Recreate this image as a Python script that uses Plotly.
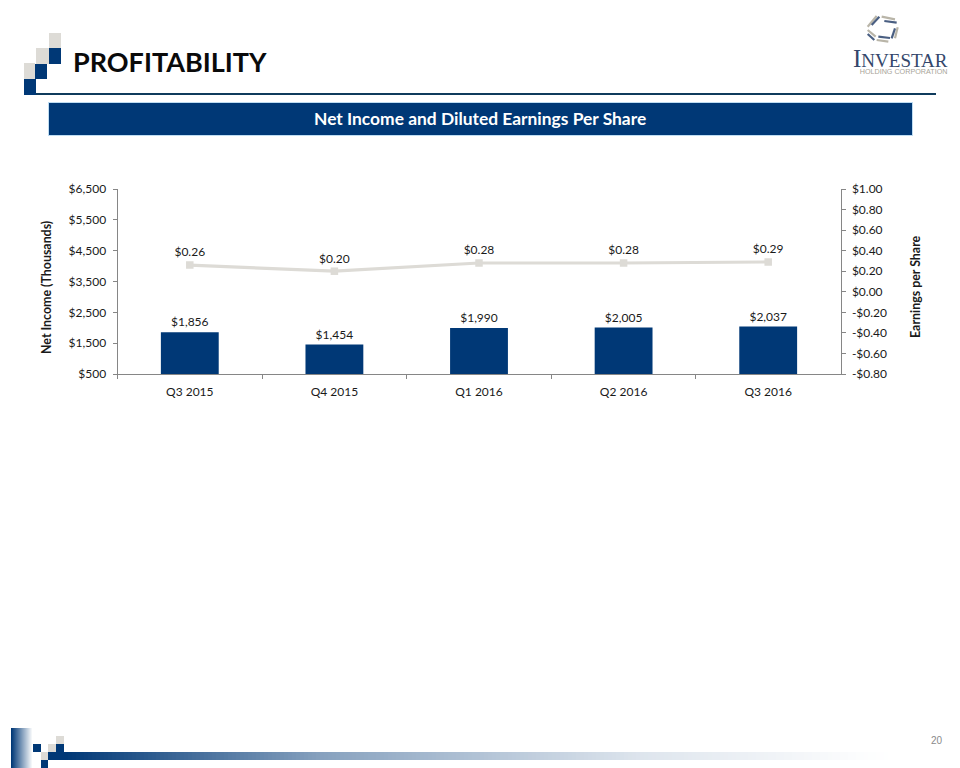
import plotly.graph_objects as go

categories = ["Q3 2015", "Q4 2015", "Q1 2016", "Q2 2016", "Q3 2016"]
net_income = [1856, 1454, 1990, 2005, 2037]
eps = [0.26, 0.20, 0.28, 0.28, 0.29]
net_income_ticks = [500, 1500, 2500, 3500, 4500, 5500, 6500]
eps_ticks = [-0.8, -0.6, -0.4, -0.2, 0.0, 0.2, 0.4, 0.6, 0.8, 1.0]

W, H = 960, 768
NAVY = "#003876"
GREY = "#DDDBD6"
TEXT = "#1a1a1a"
AXIS = "#868686"
FONT = "Lato, sans-serif"


def money(v, d=0):
    s = f"${abs(v):,.{d}f}"
    return "-" + s if v < 0 else s


def rect(x0, y0, x1, y1, color):
    return dict(type="rect", xref="paper", yref="paper", x0=x0 / W, x1=x1 / W,
                y0=1 - y1 / H, y1=1 - y0 / H, fillcolor=color, line_width=0, layer="below")


def mix(a, b, t):
    ca = [int(a[i:i + 2], 16) for i in (1, 3, 5)]
    cb = [int(b[i:i + 2], 16) for i in (1, 3, 5)]
    return "rgb(%d,%d,%d)" % tuple(round(p + (q - p) * t) for p, q in zip(ca, cb))


def fade(x):
    stops = [(64, 0.0), (320, 0.53), (640, 0.87), (860, 0.99), (890, 1.0)]
    if x <= stops[0][0]:
        return 0.0
    for (x0, t0), (x1, t1) in zip(stops, stops[1:]):
        if x <= x1:
            return t0 + (t1 - t0) * (x - x0) / (x1 - x0)
    return 1.0


shapes = []
for x0, y0, x1, y1, c in [
    (49, 33, 61, 48, GREY), (49, 48, 61, 64, NAVY),
    (36, 48, 49, 64, GREY), (35, 64, 47, 79, NAVY),
    (24, 63, 35, 79, GREY), (24, 79, 36, 95, NAVY),
]:
    shapes.append(rect(x0, y0, x1, y1, c))
shapes.append(rect(36, 93, 936, 95, "#0F3B5C"))
shapes.append(rect(48, 102, 913, 136, "#BFDDF2"))
shapes.append(rect(49, 103, 912, 135, NAVY))

for x0, y0, x1, y1, c in [
    (56, 736, 64, 744, GREY), (33, 744, 41, 752, NAVY), (48, 744, 56, 752, GREY),
    (56, 744, 64, 752, NAVY), (41, 752, 48, 760, GREY), (41, 760, 48, 768, NAVY),
]:
    shapes.append(rect(x0, y0, x1, y1, c))
for i in range(0, 22):
    shapes.append(rect(11 + i, 728, 12 + i, 768, mix(NAVY, "#FFFFFF", i / 21)))
for x in range(48, 892, 4):
    shapes.append(rect(x, 752, x + 4, 760, mix(NAVY, "#FFFFFF", fade(x))))

# logo star strokes, in 3x crop pixels of the logo region
DARK_S, LIGHT_S = "#4A5F82", "#B9B5A8"
for x0, y0, x1, y1, c in [
    (68, 50, 95, 18, LIGHT_S), (80, 45, 103, 20, DARK_S),
    (110, 20, 150, 28, LIGHT_S), (118, 33, 155, 38, DARK_S),
    (158, 52, 150, 85, LIGHT_S), (150, 55, 140, 85, DARK_S),
    (130, 95, 95, 90, LIGHT_S), (135, 84, 100, 80, DARK_S),
    (68, 72, 88, 90, DARK_S), (68, 60, 92, 80, LIGHT_S),
]:
    shapes.append(dict(type="line", xref="paper", yref="paper",
                       x0=(845 + x0 / 3) / W, x1=(845 + x1 / 3) / W,
                       y0=1 - (10 + y0 / 3) / H, y1=1 - (10 + y1 / 3) / H,
                       line=dict(color=c, width=2.2)))


def note(x, y, text, size, color, anchor="left", font=FONT, angle=0):
    return dict(xref="paper", yref="paper", x=x / W, y=1 - y / H, text=text, showarrow=False,
                xanchor=anchor, yanchor="middle", textangle=angle, borderpad=0,
                font=dict(family=font, size=size, color=color))


logo_text = (
    "<span style='font-family:Liberation Serif;font-size:25px;color:#34476B'>I"
    "<span style='font-size:19px'>NVESTAR</span></span><br>"
    "<span style='font-family:Liberation Sans;font-size:7.2px;color:#A8A498'>HOLDING CORPORATION</span>"
)

annotations = [
    note(72, 62, "<b>PROFITABILITY</b>", 27, "#0a0a0a"),
    note(480, 118, "<b>Net Income and Diluted Earnings Per Share</b>", 17.4, "#FFFFFF", "center"),
    note(937, 740, "20", 10, "#8a8a8a", "center", "Liberation Sans"),
    dict(note(949, 60, logo_text, 5.4, "#34476B", "right", "Liberation Sans"), align="right"),
    note(46, 288, "<b>Net Income (Thousands)</b>", 12.4, TEXT, "center", angle=-90),
    note(915, 287, "<b>Earnings per Share</b>", 12.4, TEXT, "center", angle=-90),
]

fig = go.Figure()
fig.add_trace(go.Bar(
    x=categories, y=net_income, marker=dict(color=NAVY, line_width=0), width=0.4,
    text=[money(v) for v in net_income], textposition="outside", cliponaxis=False,
    textfont=dict(family=FONT, size=12, color=TEXT), showlegend=False,
))
fig.add_trace(go.Scatter(
    x=categories, y=eps, yaxis="y2", mode="lines+markers+text",
    line=dict(color=GREY, width=3.2), marker=dict(symbol="square", size=7.5, color=GREY),
    text=[money(v, 2) for v in eps], textposition="top center",
    textfont=dict(family=FONT, size=12, color=TEXT), showlegend=False,
))

axis_common = dict(showgrid=False, zeroline=False, showline=True, linecolor=AXIS, linewidth=1,
                   ticks="outside", tickcolor=AXIS, ticklen=4, tickwidth=1, automargin=False,
                   tickfont=dict(family=FONT, size=12, color=TEXT))
fig.update_layout(
    template="none",
    width=W, height=H, autosize=False, margin=dict(l=0, r=0, t=0, b=0, pad=0),
    paper_bgcolor="#FFFFFF", plot_bgcolor="#FFFFFF",
    shapes=shapes, annotations=annotations,
    xaxis=dict(domain=[117.5 / W, 840.5 / W], tickson="boundaries", ticklabelstandoff=7,
               anchor="y", **axis_common),
    yaxis=dict(domain=[1 - 374 / H, 1 - 189 / H], range=[500, 6500], tickmode="array",
               tickvals=net_income_ticks, ticktext=[money(v) for v in net_income_ticks],
               ticklabelstandoff=4, **axis_common),
    yaxis2=dict(domain=[1 - 374 / H, 1 - 189 / H], range=[-0.8, 1.0], overlaying="y", side="right",
                anchor="x", tickmode="array", tickvals=eps_ticks,
                ticktext=[money(v, 2) for v in eps_ticks], ticklabelstandoff=4, **axis_common),
)
fig.write_html("out.html", config={"displayModeBar": False},
               post_script="document.body.style.margin='0';document.body.style.overflow='hidden';")
